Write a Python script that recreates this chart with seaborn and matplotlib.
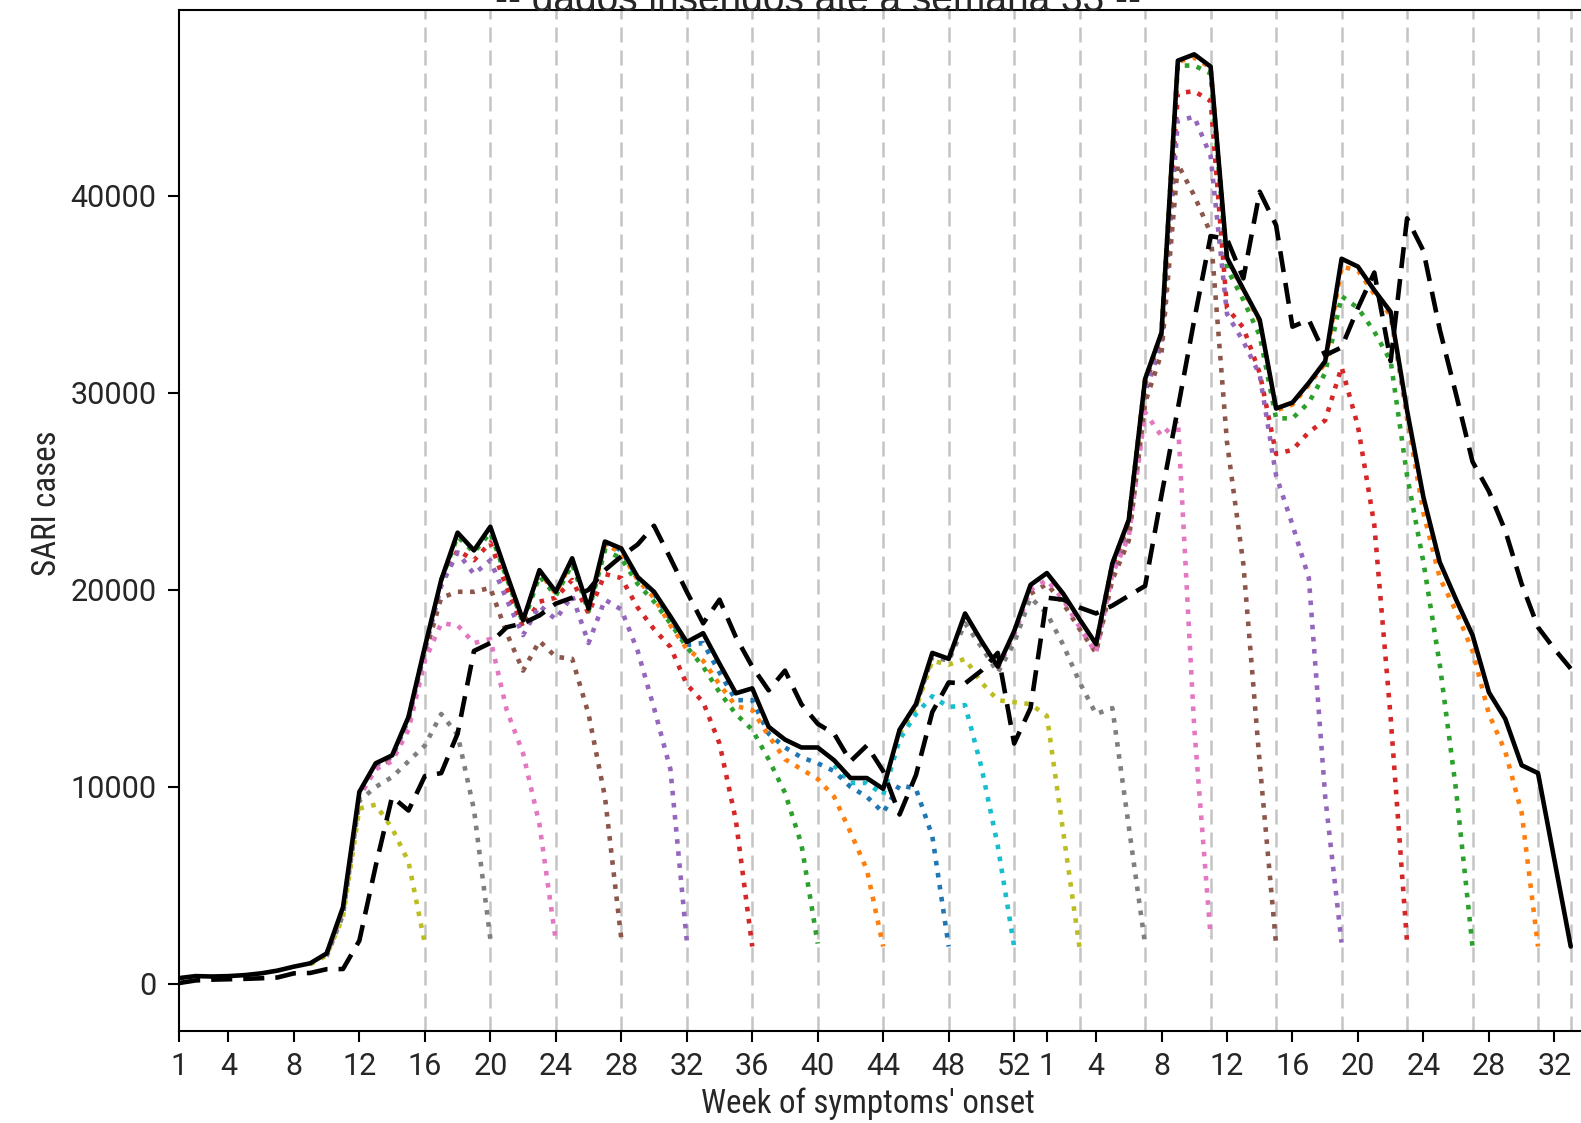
import matplotlib
matplotlib.use("Agg")
import matplotlib.pyplot as plt
import seaborn as sns

# ---------------------------------------------------------------- data ----
# Epidemiological weeks: 2020 has 53 weeks, 2021 runs up to week 33.
weeks_in_2020 = 53
last_week_2021 = 33

tick_weeks_2020 = [1, 4, 8, 12, 16, 20, 24, 28, 32, 36, 40, 44, 48, 52]
tick_weeks_2021 = [1, 4, 8, 12, 16, 20, 24, 28, 32]

# SARI cases by week of symptoms' onset, data inserted up to 2021 week 33
sari_cases = [
    300, 400, 380, 400, 450, 540, 680, 880, 1050, 1550,
    3900, 9750, 11200, 11600, 13550, 17100, 20500, 22900, 22000, 23200,
    20800, 18450, 21000, 19900, 21600, 19050, 22450, 22100, 20650, 19900,
    18650, 17350, 17800, 16250, 14750, 15000, 13050, 12400, 12000, 12000,
    11350, 10450, 10450, 9900, 12900, 14200, 16800, 16500, 18800, 17400,
    16100, 17900, 20250, 20850, 19800, 18500, 17250, 21350, 23550, 30700,
    33050, 46850, 47170, 46550, 36850, 35250, 33700, 29200, 29500, 30500,
    31600, 36800, 36400, 35200, 34100, 29100, 24700, 21400, 19500, 17700,
    14800, 13450, 11100, 10700, 6300, 1900,
]

# second series, drawn dashed
sari_dashed = [
    50, 180, 220, 240, 260, 290, 330, 540, 560, 750,
    760, 2200, 6000, 9500, 8800, 10550, 10700, 12700, 16900, 17300,
    18100, 18300, 18700, 19300, 19600, 20000, 21000, 21700, 22300, 23250,
    21600, 19900, 18300, 19500, 17600, 16100, 14900, 15900, 14200, 13200,
    12700, 11300, 12100, 10800, 8600, 10600, 13800, 15300, 15250, 15900,
    16800, 12200, 14000, 19600, 19500, 19100, 18800, 19200, 19700, 20200,
    24800, 29200, 33700, 37950, 37800, 35800, 40200, 38500, 33350, 33700,
    31900, 32300, 34300, 36100, 31600, 38850, 37200, 33200, 29900, 26500,
    25000, 23000, 20300, 18100, 17000, 16000,
]

# Earlier database snapshots: the last weeks before the insertion week
snap_2020_w16 = [1000, 1450, 3400, 8900, 9100, 7900, 6200, 2050]
snap_2020_w20 = [1400, 3500, 9300, 10000, 10500, 11300, 12100, 13700, 12650,
                 8850, 2300]
snap_2020_w24 = [1500, 3700, 9500, 10900, 11300, 12900, 16400, 18300, 18200,
                 17300, 17500, 13900, 11700, 8100, 2200]
snap_2020_w28 = [1500, 3700, 9500, 11000, 11400, 13300, 16700, 19600, 19900,
                 19900, 20100, 17800, 15900, 17400, 16600, 16500, 13700, 9500,
                 2300]
snap_2020_w32 = [11100, 11500, 13400, 16900, 20200, 21900, 20800, 21500, 19500,
                 17700, 19200, 18500, 19700, 17300, 19500, 19000, 16900, 14000,
                 10900, 2200]
snap_2020_w36 = [13500, 17000, 20400, 22000, 21500, 22400, 20100, 18100, 19400,
                 19600, 20500, 18800, 20800, 20600, 19100, 18000, 17100, 15200,
                 14300, 12200, 8300, 1900]
snap_2020_w40 = [20500, 22700, 21900, 22900, 20600, 18300, 20700, 19700, 21300,
                 18900, 22000, 21600, 20300, 19400, 18300, 17100, 16100, 14800,
                 13700, 12900, 11400, 9700, 7100, 2050]
snap_2020_w44 = [20700, 18400, 20900, 19800, 21500, 19000, 22300, 21900, 20500,
                 19600, 18200, 17000, 16400, 15200, 14100, 13900, 12600, 11400,
                 10900, 10400, 9500, 7700, 5800, 1900]
snap_2020_w48 = [22400, 22000, 20600, 19800, 18500, 17200, 17300, 15800, 14400,
                 14400, 12700, 12000, 11500, 11200, 10800, 10000, 9500, 8700,
                 10100, 9900, 7500, 1900]
snap_2020_w52 = [11100, 10200, 10200, 9600, 12400, 13700, 14600, 14050, 14150,
                 11000, 7000, 1900]
snap_2021_w03 = [12700, 14000, 16400, 16200, 16500, 15300, 14400, 14300, 14200,
                 13600, 7700, 1800]
snap_2021_w07 = [14100, 16600, 16400, 18300, 17100, 15800, 17300, 19600, 18800,
                 17200, 15300, 13700, 14000, 8000, 2000]
snap_2021_w11 = [16000, 17700, 20000, 20500, 19500, 18100, 16800, 20800, 22700,
                 29000, 27800, 28600, 13000, 2400]
snap_2021_w15 = [19800, 20300, 19300, 18000, 16800, 20500, 22500, 29500, 32000,
                 41600, 40000, 38100, 27500, 21300, 11200, 2000]
snap_2021_w19 = [17000, 20900, 23000, 30000, 32500, 43800, 44000, 42000, 34000,
                 32600, 30900, 25800, 23300, 20600, 9500, 2100]
snap_2021_w23 = [17100, 21100, 23300, 30400, 32800, 45200, 45300, 44800, 34300,
                 33300, 31000, 26900, 27100, 28000, 28600, 31300, 28300, 23300,
                 13500, 2100]
snap_2021_w27 = [17200, 21300, 23500, 30600, 33000, 46600, 46600, 46200, 36300,
                 34700, 32900, 28700, 28700, 29500, 31000, 34900, 34300, 33100,
                 31600, 25800, 21400, 16200, 9800, 1900]
snap_2021_w31 = [17200, 21300, 23500, 30700, 33000, 46800, 47000, 46500, 36800,
                 35200, 33600, 29100, 29400, 30400, 31500, 36400, 36200, 35000,
                 33900, 28700, 23900, 20600, 18900, 16900, 13700, 11800, 8700,
                 1900]

# (year, insertion week) of each snapshot, newest first
snapshots = [
    (2021, 31, snap_2021_w31), (2021, 27, snap_2021_w27),
    (2021, 23, snap_2021_w23), (2021, 19, snap_2021_w19),
    (2021, 15, snap_2021_w15), (2021, 11, snap_2021_w11),
    (2021, 7, snap_2021_w07), (2021, 3, snap_2021_w03),
    (2020, 52, snap_2020_w52), (2020, 48, snap_2020_w48),
    (2020, 44, snap_2020_w44), (2020, 40, snap_2020_w40),
    (2020, 36, snap_2020_w36), (2020, 32, snap_2020_w32),
    (2020, 28, snap_2020_w28), (2020, 24, snap_2020_w24),
    (2020, 20, snap_2020_w20), (2020, 16, snap_2020_w16),
]

title_text = "-- dados inseridos até a semana 33 --"
x_label = "Week of symptoms' onset"
y_label = "SARI cases"


def week_pos(year, week):
    """Position of an epidemiological week on the continuous x axis."""
    return week - 1 if year == 2020 else weeks_in_2020 + week - 1


# --------------------------------------------------------------- style ----
sns.set_style("ticks")
plt.rcParams["font.family"] = ["Roboto", "DejaVu Sans"]
TEXT = "#262626"
# a narrow face for the axis labels, falling back to Roboto
narrow = ["Roboto Condensed", "Noto Sans Condensed", "Open Sans Condensed",
          "DejaVu Sans Condensed", "Liberation Sans Narrow", "Roboto"]

W, H = 1581, 1123
fig = plt.figure(figsize=(W / 100, H / 100), dpi=100)
px_per_week = 16.37
ax_w = 87 * px_per_week
ax = fig.add_axes([179.3 / W, 92.5 / H, ax_w / W, 1020.5 / H])

palette = sns.color_palette("tab10")
LW = 3.3

# insertion weeks marked with light dashed verticals
marks = [week_pos(y, w) for y, w, _ in snapshots] + [week_pos(2021, last_week_2021)]
for xv in marks:
    ax.axvline(xv, color="#c4c4c4", lw=1.8, dashes=(6.0, 3.2), zorder=1)

# snapshot curves (dotted)
for k, (yr, wk, vals) in enumerate(snapshots):
    end = week_pos(yr, wk)
    xs = list(range(end - len(vals) + 1, end + 1))
    sns.lineplot(x=xs, y=vals, ax=ax, color=palette[(k + 1) % 10],
                 linestyle=":", linewidth=LW, errorbar=None, zorder=2)

n_weeks = len(sari_cases)
xs_all = list(range(n_weeks))

sns.lineplot(x=xs_all, y=sari_dashed, ax=ax, color="black", linewidth=LW,
             errorbar=None, zorder=3)
ax.lines[-1].set_dashes((4.6, 2.4))

sns.lineplot(x=xs_all, y=sari_cases, ax=ax, color="black", linewidth=LW,
             errorbar=None, zorder=4)

# --------------------------------------------------------------- axes -----
ax.set_xlim(0, 87)
ax.set_ylim(-2360, 49420)

tick_pos = [week_pos(2020, w) for w in tick_weeks_2020] + \
           [week_pos(2021, w) for w in tick_weeks_2021]
tick_lab = [str(w) for w in tick_weeks_2020] + [str(w) for w in tick_weeks_2021]
ax.set_xticks(tick_pos)
ax.set_xticklabels(tick_lab)
ax.set_yticks([0, 10000, 20000, 30000, 40000])
ax.set_yticklabels(["0", "10000", "20000", "30000", "40000"])

ax.tick_params(axis="both", labelsize=22, length=8, width=1.5,
               color="black", labelcolor=TEXT)
ax.tick_params(axis="x", pad=7.5)
ax.tick_params(axis="y", pad=8.3)

for side in ("left", "bottom", "top"):
    ax.spines[side].set_linewidth(1.5)
    ax.spines[side].set_color("black")

ax.set_xlabel(x_label, fontsize=23.7, family=narrow, stretch="condensed",
              color=TEXT, va="baseline")
ax.xaxis.set_label_coords((868 - 179.3) / ax_w, (1030.5 - 1113) / 1020.5)
ax.set_ylabel(y_label, fontsize=23.7, family=narrow, stretch="condensed",
              color=TEXT, va="baseline")
ax.yaxis.set_label_coords((56 - 179.3) / ax_w, (1030.5 - 503) / 1020.5)

fig.text(818 / W, 1 - 11 / H, title_text, ha="center", va="baseline",
         fontsize=28, family=["Liberation Sans", "DejaVu Sans"], color=TEXT)

fig.savefig("out.png", dpi=100)
